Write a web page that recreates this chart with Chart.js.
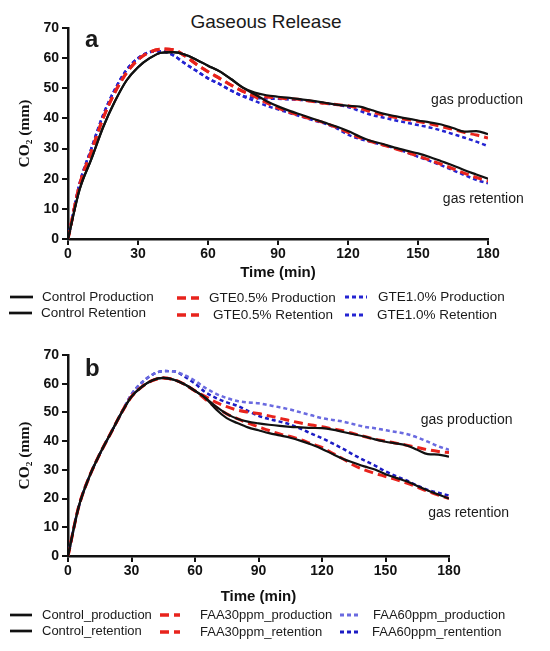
<!DOCTYPE html>
<html lang="en">
<head>
<meta charset="utf-8">
<title>Gaseous Release</title>
<script src="https://cdn.jsdelivr.net/npm/chart.js"></script>
<style>
  body { margin: 0; background: #fff; }
  #page { position: relative; width: 550px; height: 651px; overflow: hidden;
          font-family: "Liberation Sans", Arial, sans-serif; color: #1a1a1a; }
  canvas { position: absolute; left: 0; }
  .txt { position: absolute; white-space: nowrap; }
  .leg { font-size: 13.5px; line-height: 16px; }
  .legB { font-size: 13px; }
  svg { position: absolute; overflow: visible; }
</style>
</head>
<body>
<div id="page">
  <div class="txt" style="left:0;width:532px;text-align:center;top:12px;font-size:19px;line-height:19px;">Gaseous Release</div>
  <canvas id="chartA" width="550" height="285" style="top:0"></canvas>
  <canvas id="chartB" width="550" height="280" style="top:330px"></canvas>
  <div class="txt" style="left:85px;top:27px;font-size:24px;line-height:24px;font-weight:bold;">a</div>
  <div class="txt" style="left:85px;top:356px;font-size:24px;line-height:24px;font-weight:bold;">b</div>
  <div id="legends"></div>
</div>
<script>
// sampling times (min), every 5 min
const minutes = [0,5,10,15,20,25,30,35,40,45,50,55,60,65,70,75,80,85,90,95,100,105,110,115,120,125,130,135,140,145,150,155,160,165,170,175,180];
const xTicks = [0, 30, 60, 90, 120, 150, 180];
const yTicks = [0, 10, 20, 30, 40, 50, 60, 70];

// panel a: control vs GTE
const ctrlProdA  = [0,16.5,26.5,37,45.5,52.5,57,60,61.8,62,61.2,59.5,57.5,55.6,53,50.2,48.6,47.7,47.2,46.8,46.3,45.8,45.2,44.6,44.2,43.9,42.8,41.6,40.8,40,39.3,38.7,38,36.8,35.6,35.8,34.8];
const ctrlRetA   = [0,16.5,26.5,37,45.5,52.5,57,60,61.8,62,61.2,59.5,57.5,55.6,53,50.2,48,45.8,44,42.5,41.2,39.9,38.6,37.3,35.8,34,32.5,31.5,30.3,29.3,28.4,27.2,25.8,24.4,22.8,21.4,20];
const gte05ProdA = [0,18,29,40,48.5,55,59.5,62,63,62.8,60.8,58,55.5,53.3,51,49,47.8,47.1,46.8,46.5,46.2,45.6,45,44.6,44.2,43.3,42.2,41.2,40.4,39.6,39,38.2,37.3,36.4,35.3,34.5,33.5];
const gte05RetA  = [0,18,29,40,48.5,55,59.5,62,63,62.8,60.8,58,55.5,53.3,51,49,47.2,45.2,43.4,42,40.8,39.6,38.5,37,35.4,33.6,32.3,31.2,30,28.8,27.5,26.2,24.8,23.3,21.8,20.4,19.2];
const gte10ProdA = [0,18.5,30,41,49.5,56,60,62,62.3,61,58.3,55.8,53.3,51.4,49.2,47.5,46.8,46.6,46.5,46.3,46.1,45.6,45,44.5,43.8,42.5,41.2,40.3,39.4,38.6,37.8,37,36,34.8,33.6,32.3,30.8];
const gte10RetA  = [0,18.5,30,41,49.5,56,60,62,62.3,61,58.3,55.8,53.3,51.4,49.2,47.3,45.8,44.2,43,41.8,40.6,39.4,38.3,36.8,34.6,33.2,32.2,31.2,30.1,28.8,27.3,25.9,24.4,22.8,21.2,19.6,18.5];

// panel b: control vs FAA
const ctrlProdB  = [0,17,27.5,35.5,42.5,49.5,55.5,59,61.2,62,61.4,59.8,57.5,55,52,49.5,47.8,46.8,46.2,45.7,45.3,45,44.8,44.6,44.5,44,43.2,42.4,41.6,40.6,39.8,39.2,38.5,37,35.5,35.3,34.6];
const ctrlRetB   = [0,17,27.5,35.5,42.5,49.5,55.5,59,61.2,62,61.4,59.8,57.5,55,51,48,46.3,44.8,43.8,42.8,42,41.2,40.1,38.8,37.3,35.5,33.8,32.5,31.2,30.1,28.5,27.2,26,24.4,22.8,21.4,20];
const faa30ProdB = [0,17,27.5,35.5,42.5,49.5,55.5,59,61.2,62,61.4,59.8,57.5,55.5,53.5,52,50.8,50.1,49.6,48.8,48,47.1,46.3,45.6,45,44.3,43.6,42.6,41.6,40.7,40,39.3,38.6,37.8,37,36.4,36];
const faa30RetB  = [0,17,27.5,35.5,42.5,49.5,55.5,59,61.2,62,61.4,59.8,57.5,54.5,51.8,49.5,47.8,46.3,45,43.7,42.5,41.6,40.5,39.1,37.8,35.8,33.8,31.6,30,28.8,27.7,26.6,25.4,24,22.5,21.2,20];
const faa60ProdB = [0,17,27.5,35.5,42.5,49.5,56.3,60.5,63.2,64.4,64.3,63,61,58.5,56.5,55,54,53.5,53.2,52.5,51.8,51,50,49,48,47.4,46.8,45.9,45,44.5,43.8,43.2,42.5,41.3,39.8,38.2,37];
const faa60RetB  = [0,17,27.5,35.5,42.5,49.5,56.3,60.5,63.2,64.4,64.3,62.5,60,57,55,53.5,52.3,50.5,48.8,47.7,46.8,45.8,44.3,42.6,41,39.2,37.3,35.2,33.3,31.5,29.5,27.8,26.3,24.5,23,22,21];

const BLACK = '#111111', RED = '#e8231c', BLUE = '#2424d2', LBLUE = '#6a6ae0', DBLUE = '#1c1cc4';
const solid = { color: BLACK, dash: [], width: 2.2 };
const longDash = { dash: [9, 5], width: 3 };
const shortDash = { dash: [4, 3], width: 2.5 };

const seriesA = [
  { label: 'Control Production', data: ctrlProdA, ...solid },
  { label: 'Control Retention',  data: ctrlRetA,  ...solid },
  { label: 'GTE0.5% Production', data: gte05ProdA, color: RED, ...longDash },
  { label: 'GTE0.5% Retention',  data: gte05RetA,  color: RED, ...longDash },
  { label: 'GTE1.0% Production', data: gte10ProdA, color: BLUE, ...shortDash },
  { label: 'GTE1.0% Retention',  data: gte10RetA,  color: BLUE, ...shortDash }
];
const seriesB = [
  { label: 'Control_production',  data: ctrlProdB, ...solid },
  { label: 'Control_retention',   data: ctrlRetB,  ...solid },
  { label: 'FAA30ppm_production', data: faa30ProdB, color: RED, ...longDash },
  { label: 'FAA30ppm_retention',  data: faa30RetB,  color: RED, ...longDash },
  { label: 'FAA60ppm_production', data: faa60ProdB, color: LBLUE, ...shortDash },
  { label: 'FAA60ppm_rentention', data: faa60RetB,  color: DBLUE, ...shortDash }
];

// curve labels, placed in data units
const notesA = [{ text: 'gas production', t: 175.3, v: 46.1 }, { text: 'gas retention', t: 178, v: 13.3 }];
const notesB = [{ text: 'gas production', t: 188.3, v: 47.4 }, { text: 'gas retention', t: 189.3, v: 14.9 }];

Chart.defaults.font.family = '"Liberation Sans", Arial, sans-serif';

const notesPlugin = {
  id: 'notes',
  afterDatasetsDraw(chart, args, opts) {
    const { ctx, scales } = chart;
    ctx.save();
    ctx.font = '14px "Liberation Sans", Arial, sans-serif';
    ctx.fillStyle = '#1a1a1a';
    ctx.textAlign = 'center';
    ctx.textBaseline = 'middle';
    opts.items.forEach(n => ctx.fillText(n.text, scales.x.getPixelForValue(n.t), scales.y.getPixelForValue(n.v)));
    ctx.restore();
  }
};

function makePanel(id, series, notes, pad, xAxisHeight, titlePad) {
  const tickFont = { size: 14, weight: 'bold' };
  return new Chart(document.getElementById(id), {
    type: 'line',
    data: {
      datasets: series.map(s => ({
        label: s.label,
        data: minutes.map((t, i) => ({ x: t, y: s.data[i] })),
        borderColor: s.color,
        borderDash: s.dash,
        borderWidth: s.width,
        pointRadius: 0,
        fill: false,
        cubicInterpolationMode: 'monotone'
      }))
    },
    options: {
      responsive: false,
      animation: false,
      layout: { padding: pad },
      plugins: { legend: { display: false }, tooltip: { enabled: false }, notes: { items: notes } },
      scales: {
        x: {
          type: 'linear', min: 0, max: 180,
          afterBuildTicks: s => { s.ticks = xTicks.map(v => ({ value: v })); },
          afterFit: s => { s.height = xAxisHeight; },
          grid: { drawOnChartArea: false, tickLength: 6, color: BLACK, lineWidth: 2 },
          border: { color: BLACK, width: 2.5 },
          ticks: { color: BLACK, font: tickFont, padding: 1, maxRotation: 0 },
          title: { display: true, text: 'Time (min)', color: BLACK,
                   font: { size: 15, weight: 'bold' }, padding: { top: 0, bottom: titlePad } }
        },
        y: {
          min: 0, max: 70,
          afterBuildTicks: s => { s.ticks = yTicks.map(v => ({ value: v })); },
          afterFit: s => { s.width = 68; },
          grid: { drawOnChartArea: false, tickLength: 6, color: BLACK, lineWidth: 2 },
          border: { color: BLACK, width: 2.5 },
          ticks: { color: BLACK, font: tickFont, padding: 3 },
          title: { display: true, text: 'CO₂ (mm)', color: BLACK,
                   font: { family: '"Liberation Serif", "Times New Roman", serif', size: 15.5, weight: 'bold' },
                   padding: { top: 16, bottom: 0 } }
        }
      }
    },
    plugins: [notesPlugin]
  });
}

makePanel('chartA', seriesA, notesA, { top: 28, right: 62, left: 0, bottom: 0 }, 46, 3);
makePanel('chartB', seriesB, notesB, { top: 25, right: 101, left: 0, bottom: 0 }, 54, 4);

// legends: [series, symbol x, symbol width, text x, row centre y, extra class]
const legendLayout = [
  [seriesA[0], 10, 23, 42, 296.5, ''], [seriesA[1], 9, 23, 41, 313, ''],
  [seriesA[2], 177, 22, 209, 298, ''], [seriesA[3], 177, 22, 213, 315, ''],
  [seriesA[4], 345, 22, 378, 297, ''], [seriesA[5], 345, 21, 377, 315, ''],
  [seriesB[0], 10, 22, 42, 615, 'legB'], [seriesB[1], 10, 22, 42, 630.5, 'legB'],
  [seriesB[2], 160, 20, 200, 615, 'legB'], [seriesB[3], 160, 20, 200, 632, 'legB'],
  [seriesB[4], 340, 20, 373, 614.5, 'legB'], [seriesB[5], 340, 20, 372, 632, 'legB']
];
const holder = document.getElementById('legends');
legendLayout.forEach(([s, sx, sw, tx, cy, cls]) => {
  const svg = document.createElementNS('http://www.w3.org/2000/svg', 'svg');
  svg.setAttribute('width', sw);
  svg.setAttribute('height', 6);
  svg.style.left = sx + 'px';
  svg.style.top = (cy - 3) + 'px';
  const ln = document.createElementNS('http://www.w3.org/2000/svg', 'line');
  ln.setAttribute('x1', 0); ln.setAttribute('x2', sw);
  ln.setAttribute('y1', 3); ln.setAttribute('y2', 3);
  ln.setAttribute('stroke', s.color);
  ln.setAttribute('stroke-width', s.width + 0.5);
  if (s.dash.length) ln.setAttribute('stroke-dasharray', s.dash.join(' '));
  svg.appendChild(ln);
  holder.appendChild(svg);
  const t = document.createElement('div');
  t.className = 'txt leg ' + cls;
  t.style.left = tx + 'px';
  t.style.top = (cy - 7.8) + 'px';
  t.textContent = s.label;
  holder.appendChild(t);
});
</script>
</body>
</html>
